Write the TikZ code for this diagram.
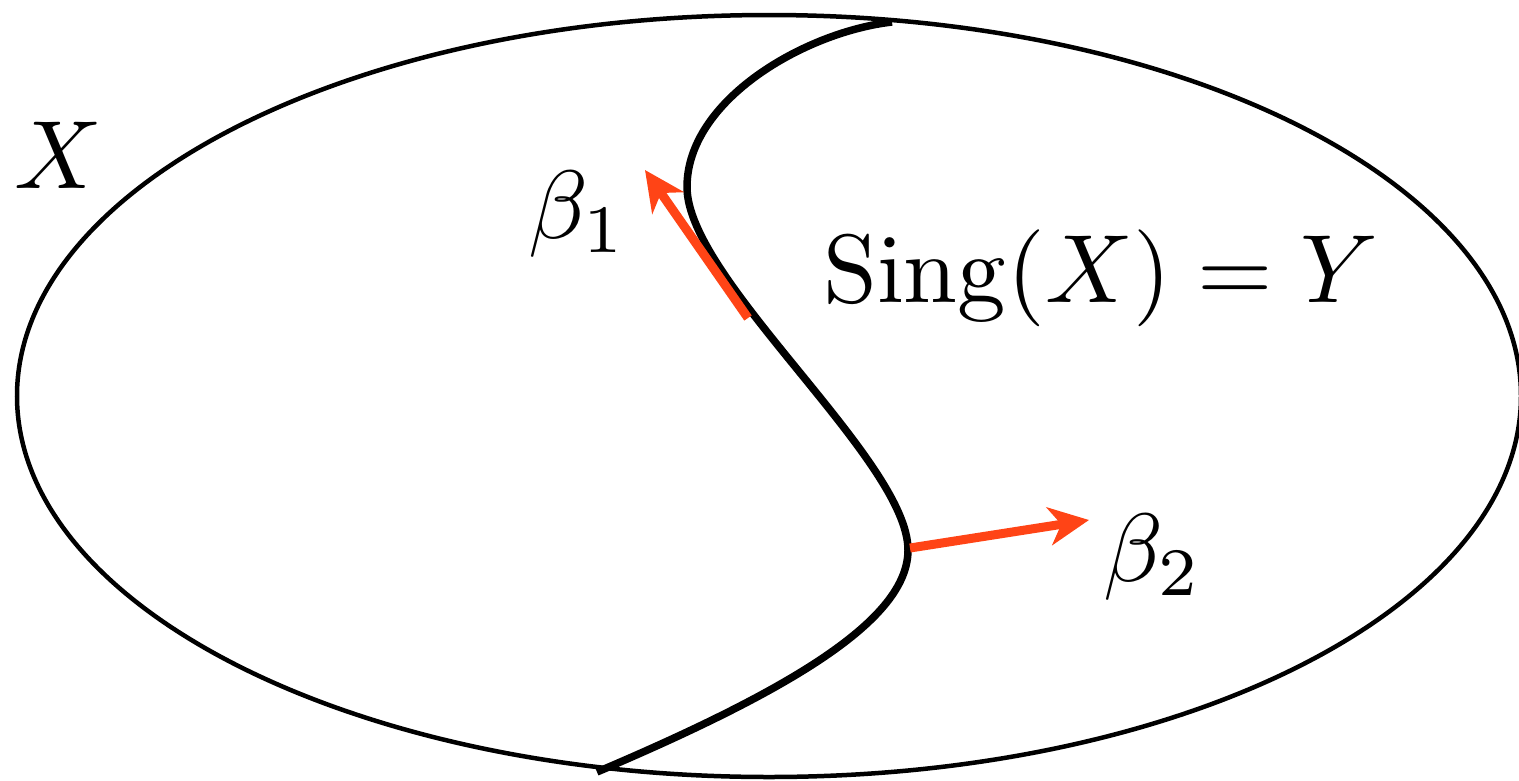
\documentclass[tikz,border=0pt]{standalone}
\usetikzlibrary{arrows.meta}
\definecolor{arrowred}{RGB}{255,68,22}
\newcommand\biglabel[1]{\scalebox{9.7}{#1}}
\begin{document}
\begin{tikzpicture}[x=1pt,y=-1pt,
  lbl/.style={inner sep=0pt,anchor=base west},
  outline/.style={line width=4.5pt},
  singcurve/.style={line width=7.5pt},
  vec/.style={draw=arrowred,line width=9pt,-{Stealth[length=40pt,width=38pt,inset=12pt]}}]
\useasboundingbox (0,0) rectangle (1519,780);
\begin{scope}
\clip (0,0) rectangle (1519,780);
\draw[outline] (769,396) ellipse [x radius=752, y radius=381];
\end{scope}
\coordinate (ytop) at (892,22);
\coordinate (yleft) at (687,187);
\coordinate (yright) at (908,550);
\coordinate (ybot) at (597,772);
\draw[singcurve] (ytop) .. controls (805,32) and (687,100) .. (yleft)
   .. controls (687,280) and (908,460) .. (yright)
   .. controls (908,620) and (790,690) .. (ybot);
\coordinate (b1s) at (748,318);
\coordinate (b1t) at (645,170);
\coordinate (b2s) at (910,548);
\coordinate (b2t) at (1089,520);
\draw[vec] (b1s) -- (b1t);
\draw[vec] (b2s) -- (b2t);
\node[lbl] (xl) at (14,188) {\biglabel{$X$}};
\node[lbl] (b1) at (528,238) {\biglabel{$\beta_1$}};
\node[lbl] (sing) at (823,302) {\biglabel{$\mathrm{Sing}(X)=Y$}};
\node[lbl] (b2) at (1103,581) {\biglabel{$\beta_2$}};
\end{tikzpicture}
\end{document}
